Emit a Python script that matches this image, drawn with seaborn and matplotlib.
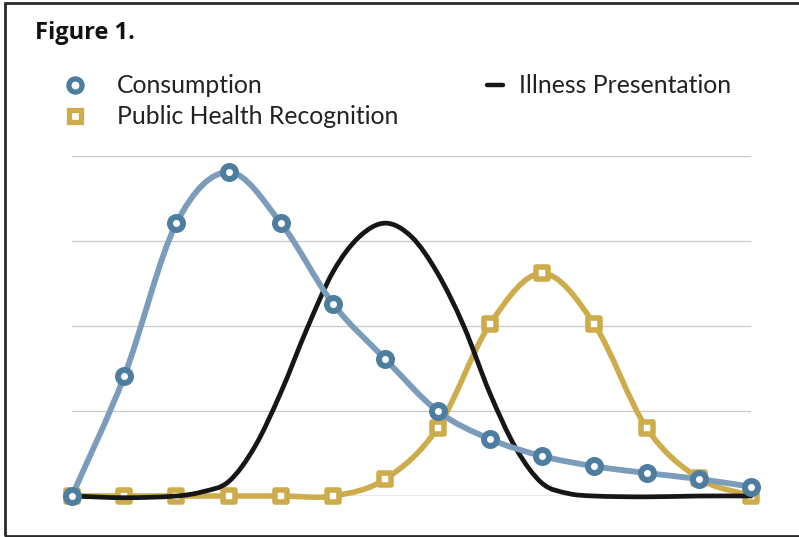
import numpy as np
import pandas as pd
import matplotlib
matplotlib.use("Agg")
import matplotlib.pyplot as plt
import seaborn as sns
from matplotlib.path import Path
from matplotlib.patches import PathPatch, Rectangle
from matplotlib.lines import Line2D

# ---- data ----
stages = list(range(14))
consumption = [0.0, 1.41, 3.21, 3.81, 3.21, 2.26, 1.61, 1.0, 0.67, 0.47, 0.35, 0.27, 0.2, 0.11]
recognition = [0.0, 0.0, 0.0, 0.0, 0.0, 0.0, 0.2, 0.8, 2.02, 2.62, 2.02, 0.8, 0.21, 0.0]
# illness curve has no markers; read at half-stage positions
illness_x = [0, 1, 2, 2.5, 3, 3.5, 4, 4.5, 5, 5.5, 6, 6.5, 7, 7.5, 8, 8.5, 9, 9.5, 10, 11, 12, 13]
illness = [0.0, -0.02, 0.0, 0.05, 0.17, 0.58, 1.22, 1.97, 2.64, 3.05, 3.21, 3.05, 2.62,
           2.0, 1.21, 0.56, 0.15, 0.03, 0.0, -0.01, 0.0, 0.0]
series_names = ["Consumption", "Public Health Recognition", "Illness Presentation"]
title_text = "Figure 1."

BLUE_LINE = "#7b9cba"
BLUE_MARK = "#4e7e9f"
GOLD = "#cdac4c"
BLACK = "#161616"

sns.set_theme(style="white")
plt.rcParams["font.family"] = ["Lato", "DejaVu Sans"]

W, H = 799, 537
fig = plt.figure(figsize=(W / 100, H / 100), dpi=100)
ax = fig.add_axes([72 / W, (H - 496) / H, (751 - 72) / W, (496 - 156) / H])
ax.set_xlim(0, 13)
ax.set_ylim(0, 4)
ax.set_yticks([1, 2, 3, 4])
ax.set_xticks([])
ax.set_yticklabels([])
ax.grid(axis="y", color="#c9c9c9", lw=0.9)
ax.grid(axis="x", visible=False)
for s in ax.spines.values():
    s.set_visible(False)
ax.axhline(0, color="#8c8c8c", lw=1.0, zorder=0.5)


def smooth_patch(xs, ys, color, lw, z):
    pts = np.column_stack([xs, ys]).astype(float)
    n = len(pts)
    verts = [tuple(pts[0])]
    codes = [Path.MOVETO]
    for i in range(n - 1):
        p0 = pts[i - 1] if i > 0 else pts[i]
        p1 = pts[i]
        p2 = pts[i + 1]
        p3 = pts[i + 2] if i + 2 < n else pts[i + 1]
        # Catmull-Rom tangents scaled for non-uniform spacing
        h = p2[0] - p1[0]
        t1 = (p2 - p0) / max(p2[0] - p0[0], 1e-9) * h
        t2 = (p3 - p1) / max(p3[0] - p1[0], 1e-9) * h
        c1 = p1 + t1 / 3.0
        c2 = p2 - t2 / 3.0
        verts += [tuple(c1), tuple(c2), tuple(p2)]
        codes += [Path.CURVE4] * 3
    patch = PathPatch(Path(verts, codes), fill=False, edgecolor=color, lw=lw,
                      capstyle="round", joinstyle="round", zorder=z, clip_on=False)
    ax.add_patch(patch)


df = pd.DataFrame({"stage": stages, "consumption": consumption,
                   "recognition": recognition})

# gold (bottom)
smooth_patch(df.stage, df.recognition, GOLD, 4.0, 2)
sns.scatterplot(data=df, x="stage", y="recognition", marker="s", s=80,
                facecolor="white", edgecolor=GOLD, linewidth=4.0, ax=ax,
                zorder=2.1, clip_on=False, legend=False)
# black
smooth_patch(illness_x, illness, BLACK, 3.4, 3)
# blue (top)
smooth_patch(df.stage, df.consumption, BLUE_LINE, 4.2, 4)
sns.scatterplot(data=df, x="stage", y="consumption", marker="o", s=88,
                facecolor="white", edgecolor=BLUE_MARK, linewidth=4.3, ax=ax,
                zorder=4.1, clip_on=False, legend=False)
ax.set_xlabel("")
ax.set_ylabel("")

# frame (left, top, bottom; right side runs off the image)
fig.add_artist(Rectangle((5 / W, 1.5 / H), (W + 20) / W, (H - 4.5) / H,
                         transform=fig.transFigure, fill=False,
                         edgecolor="#2a2a2a", lw=2.0))

# title
fig.text(35 / W, 1 - 33 / H, title_text, fontsize=17, fontweight="bold",
         family=["Open Sans", "DejaVu Sans"], color="#111111", va="center", ha="left")

# legend (manual layout)
def fy(y):
    return 1 - y / H

fig.add_artist(Line2D([75 / W], [fy(85)], transform=fig.transFigure, marker="o",
                      markersize=9.5, markerfacecolor="white", markeredgecolor=BLUE_MARK,
                      markeredgewidth=3.8, linestyle="none"))
fig.add_artist(Line2D([75 / W], [fy(116)], transform=fig.transFigure, marker="s",
                      markersize=9, markerfacecolor="white", markeredgecolor=GOLD,
                      markeredgewidth=3.8, linestyle="none"))
fig.add_artist(Line2D([487 / W, 503 / W], [fy(85), fy(85)], transform=fig.transFigure,
                      color=BLACK, lw=3.2))
fs = 17.8
fig.text(117 / W, fy(86), series_names[0], fontsize=fs, color="#222222", va="center", ha="left")
fig.text(117 / W, fy(117), series_names[1], fontsize=fs, color="#222222", va="center", ha="left")
fig.text(519 / W, fy(86), series_names[2], fontsize=fs, color="#222222", va="center", ha="left")

fig.savefig("out.png", dpi=100)
